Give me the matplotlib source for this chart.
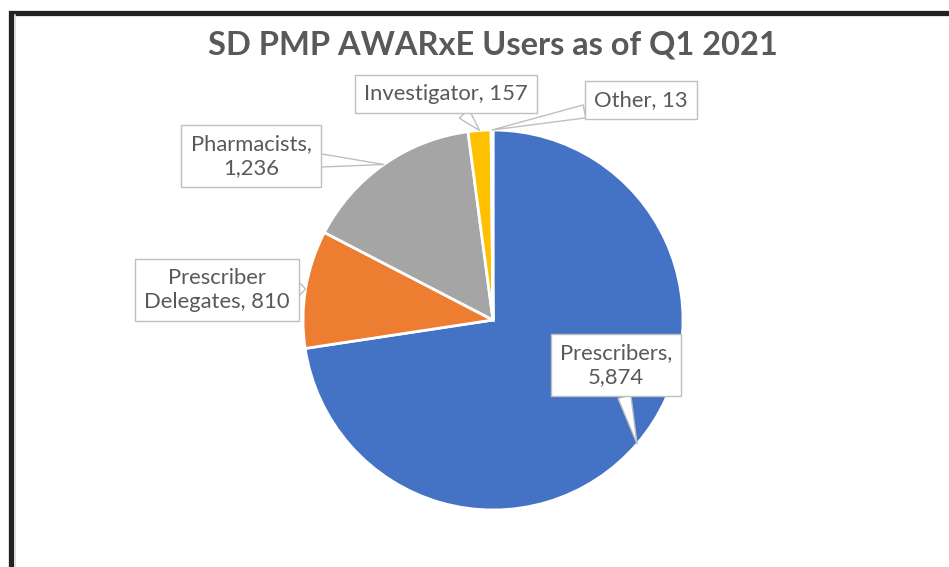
import numpy as np
import matplotlib
matplotlib.use("Agg")
import matplotlib.pyplot as plt
from matplotlib.patches import Rectangle

# data
labels = ["Prescribers", "Prescriber Delegates", "Pharmacists", "Investigator", "Other"]
values = [5874, 810, 1236, 157, 13]
colors = ["#4472C4", "#ED7D31", "#A5A5A5", "#FFC000", "#5B9BD5"]
label_text = ["Prescribers,\n5,874", "Prescriber\nDelegates, 810", "Pharmacists,\n1,236",
              "Investigator, 157", "Other, 13"]

# label box centres (pixels from top-left)
label_pos = [(616, 365), (217, 290), (251, 156), (446, 94), (641, 100)]

W, H = 949, 567
fig = plt.figure(figsize=(W / 100, H / 100), dpi=100)
ax = fig.add_axes([0, 0, 1, 1])
ax.axis("off")

cx, cy, r = 493, H - 320, 190
wedges, _ = ax.pie(values, colors=colors, startangle=90, counterclock=False,
                   center=(cx, cy), radius=r,
                   wedgeprops=dict(edgecolor="white", linewidth=2))
ax.set_xlim(0, W)
ax.set_ylim(0, H)
ax.set_aspect("equal")

plt.rcParams['font.family'] = ['Lato', 'DejaVu Sans']
gray_txt = "#595959"
box_ec = "#BFBFBF"

for w, txt, (lx, ly) in zip(wedges, label_text, label_pos):
    mid = np.deg2rad((w.theta1 + w.theta2) / 2)
    px = cx + r * np.cos(mid)
    py = cy + r * np.sin(mid)
    ax.annotate(txt, xy=(px, py), xytext=(lx, H - ly), ha="center", va="center",
                fontsize=15.8, color=gray_txt, linespacing=1.25,
                bbox=dict(boxstyle="square,pad=0.42", fc="white", ec=box_ec, lw=1),
                arrowprops=dict(arrowstyle="wedge,tail_width=0.6,shrink_factor=0.5",
                                fc="white", ec=box_ec, lw=1, shrinkA=0, shrinkB=0))

ax.text(493, H - 45, "SD PMP AWARxE Users as of Q1 2021", ha="center", va="center",
        fontsize=23.5, fontweight="bold", color=gray_txt)

# dark frame (only top and left visible, as cropped)
ax.add_patch(Rectangle((11.5, -20), W + 20, H - 12.5 + 20, fill=False,
                       ec="#222222", lw=3.8, clip_on=False))
ax.plot([15.5, 15.5], [0, H - 15], color="#D9D9D9", lw=1.2)

fig.savefig("out.png", dpi=100)
